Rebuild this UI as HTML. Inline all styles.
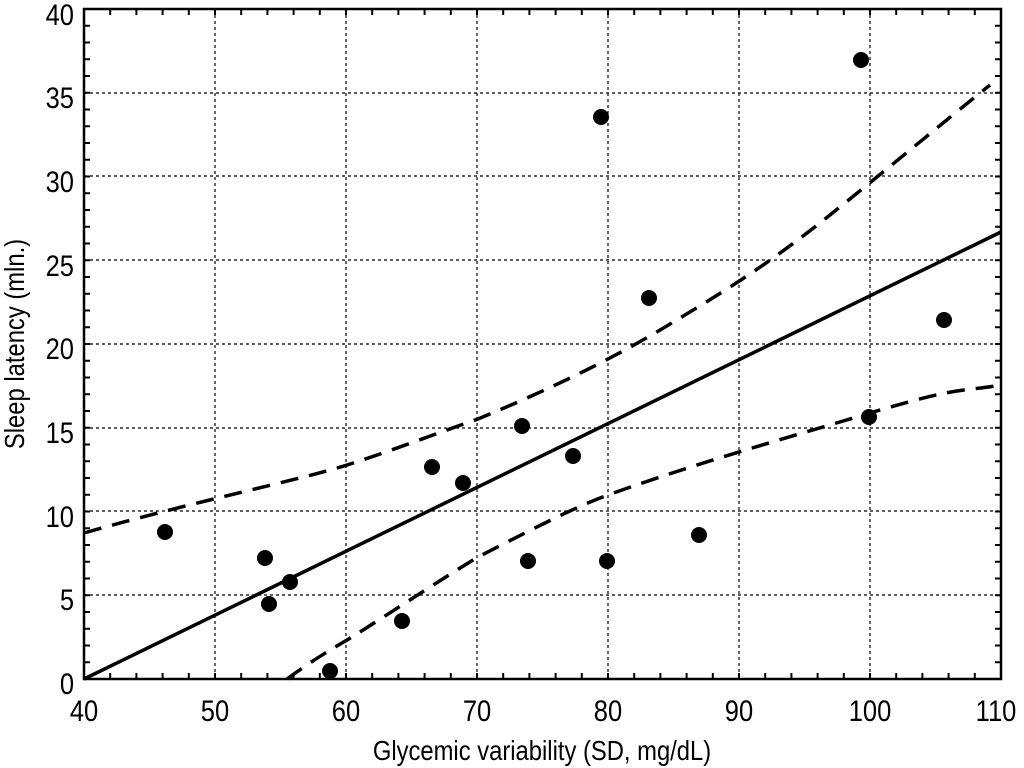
<!DOCTYPE html>
<html><head><meta charset="utf-8"><style>
html,body{margin:0;padding:0;background:#fff;}
svg{display:block;font-family:"Liberation Sans",sans-serif;}
</style></head><body>
<svg width="1024" height="768" viewBox="0 0 1024 768" xmlns="http://www.w3.org/2000/svg">
<rect width="1024" height="768" fill="#fff"/>
<g stroke="#000" stroke-width="1.2" stroke-dasharray="3 3">
<line x1="215" y1="9" x2="215" y2="679"/><line x1="346" y1="9" x2="346" y2="679"/>
<line x1="477" y1="9" x2="477" y2="679"/><line x1="608" y1="9" x2="608" y2="679"/>
<line x1="739" y1="9" x2="739" y2="679"/><line x1="870" y1="9" x2="870" y2="679"/>
<line x1="84" y1="595" x2="1001" y2="595"/><line x1="84" y1="511" x2="1001" y2="511"/>
<line x1="84" y1="428" x2="1001" y2="428"/><line x1="84" y1="344" x2="1001" y2="344"/>
<line x1="84" y1="260" x2="1001" y2="260"/><line x1="84" y1="176" x2="1001" y2="176"/>
<line x1="84" y1="93" x2="1001" y2="93"/>
</g>
<g stroke="#000" stroke-width="6">
<line x1="83" y1="676" x2="1003" y2="676" stroke-dasharray="2 24.2"/>
<line x1="83" y1="12" x2="1003" y2="12" stroke-dasharray="2 24.2"/>
<line x1="87" y1="680" x2="87" y2="8" stroke-dasharray="2 14.75"/>
<line x1="998" y1="680" x2="998" y2="8" stroke-dasharray="2 14.75"/>
</g>
<rect x="84" y="9" width="917" height="670" fill="none" stroke="#000" stroke-width="2.5"/>
<line x1="84" y1="679" x2="1001" y2="232" stroke="#000" stroke-width="3.5"/>
<g fill="none" stroke="#000" stroke-width="3.5" stroke-dasharray="18 11">
<path d="M84 533 C200 500 300 480 347 465 S440 432 478 419 C560 385 620 355 680 318 C740 282 780 255 830 215 C880 175 940 125 990 85"/>
<path d="M287 679 C310 662 330 650 347 640 S440 580 478 557 C540 525 580 505 608 495 C700 462 780 440 870 413 S960 392 1001 385"/>
</g>
<g fill="#000">
<circle cx="165" cy="532" r="8"/><circle cx="265" cy="558" r="8"/><circle cx="269" cy="604" r="8"/>
<circle cx="290" cy="582" r="8"/><circle cx="330" cy="671" r="8"/><circle cx="402" cy="621" r="8"/>
<circle cx="432" cy="467" r="8"/><circle cx="463" cy="483" r="8"/><circle cx="522" cy="426" r="8"/>
<circle cx="528" cy="561" r="8"/><circle cx="573" cy="456" r="8"/><circle cx="601" cy="117" r="8"/>
<circle cx="607" cy="561" r="8"/><circle cx="649" cy="298" r="8"/><circle cx="699" cy="535" r="8"/>
<circle cx="861" cy="60" r="8"/><circle cx="869" cy="417" r="8"/><circle cx="944" cy="320" r="8"/>
</g>
<g font-size="30" fill="#000" text-anchor="end">
<text x="74" y="25" transform="translate(74 0) scale(0.85 1) translate(-74 0)">40</text>
<text x="74" y="108" transform="translate(74 0) scale(0.85 1) translate(-74 0)">35</text>
<text x="74" y="192" transform="translate(74 0) scale(0.85 1) translate(-74 0)">30</text>
<text x="74" y="276" transform="translate(74 0) scale(0.85 1) translate(-74 0)">25</text>
<text x="74" y="359" transform="translate(74 0) scale(0.85 1) translate(-74 0)">20</text>
<text x="74" y="443" transform="translate(74 0) scale(0.85 1) translate(-74 0)">15</text>
<text x="74" y="527" transform="translate(74 0) scale(0.85 1) translate(-74 0)">10</text>
<text x="74" y="610" transform="translate(74 0) scale(0.85 1) translate(-74 0)">5</text>
<text x="74" y="694" transform="translate(74 0) scale(0.85 1) translate(-74 0)">0</text>
</g>
<g font-size="30" fill="#000" text-anchor="middle">
<text x="84" y="721" transform="translate(84 0) scale(0.85 1) translate(-84 0)">40</text>
<text x="215" y="721" transform="translate(215 0) scale(0.85 1) translate(-215 0)">50</text>
<text x="346" y="721" transform="translate(346 0) scale(0.85 1) translate(-346 0)">60</text>
<text x="477" y="721" transform="translate(477 0) scale(0.85 1) translate(-477 0)">70</text>
<text x="608" y="721" transform="translate(608 0) scale(0.85 1) translate(-608 0)">80</text>
<text x="739" y="721" transform="translate(739 0) scale(0.85 1) translate(-739 0)">90</text>
<text x="870" y="721" transform="translate(870 0) scale(0.85 1) translate(-870 0)">100</text>
<text x="996" y="721" transform="translate(996 0) scale(0.85 1) translate(-996 0)">110</text>
</g>
<text x="542" y="760" font-size="28" text-anchor="middle" transform="translate(542 0) scale(0.85 1) translate(-542 0)">Glycemic variability (SD, mg/dL)</text>
<text transform="translate(24 344) rotate(-90) scale(0.85 1)" font-size="28" text-anchor="middle">Sleep latency (mln.)</text>
</svg>
</body></html>
